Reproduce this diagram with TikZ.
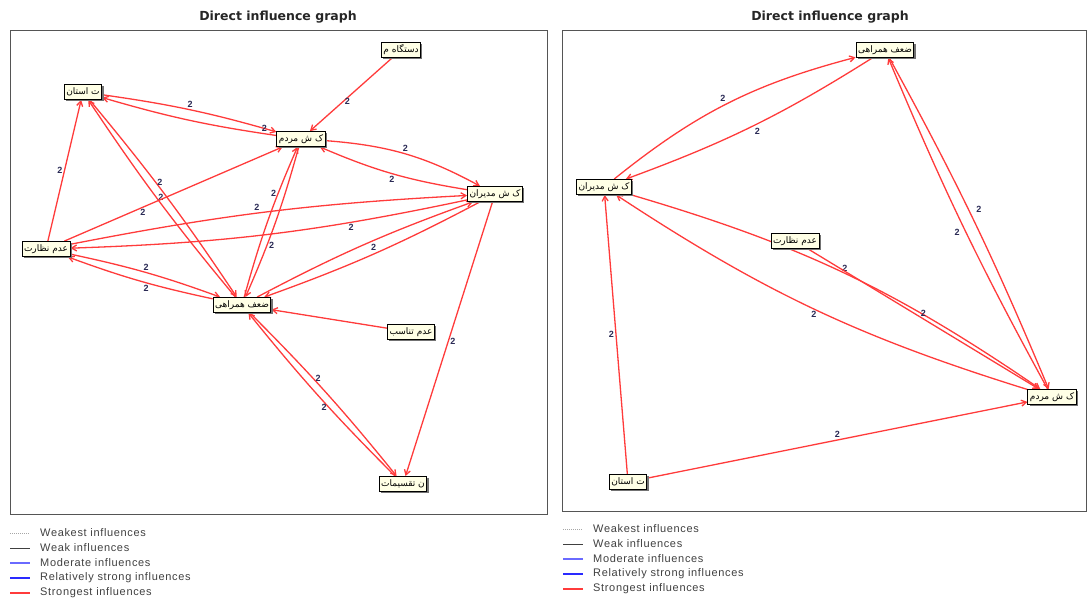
\documentclass[tikz,border=0pt]{standalone}
\usepackage{fontspec}
\setmainfont{Liberation Sans}
\newfontfamily\farsi[Script=Arabic]{DejaVu Sans}
\newfontfamily\titlefont{DejaVu Sans}
\newfontfamily\legendfont[LetterSpace=6]{Liberation Sans}
\TeXXeTstate=1
\usetikzlibrary{arrows.meta,shadows,backgrounds}
\definecolor{inflred}{HTML}{FF3B3B}
\definecolor{wtblue}{HTML}{2A2A55}
\definecolor{framegray}{HTML}{555555}
\definecolor{boxfill}{HTML}{FFFFE6}
\definecolor{modblue}{HTML}{6A6AFF}
\definecolor{strongblue}{HTML}{2A2AFF}

\begin{document}
\begin{tikzpicture}[x=1pt,y=1pt,
    factor/.style={draw=black, line width=0.9pt, fill=boxfill, inner sep=2pt,
      minimum height=15pt, font=\farsi\fontsize{9}{10}\selectfont,
      execute at begin node=\beginR, execute at end node=\endR,
      drop shadow={shadow xshift=1.8pt, shadow yshift=-1.8pt, fill=black!55, opacity=1}},
    infl/.style={draw=inflred, line width=1.3pt, -{Straight Barb[length=5pt,width=6pt]}},
    wt/.style={font=\bfseries\fontsize{9}{10}\selectfont, text=wtblue, inner sep=1.5pt},
    title/.style={font=\titlefont\bfseries\fontsize{12.5}{14}\selectfont, text=black!85},
    legtext/.style={font=\legendfont\fontsize{11}{12}\selectfont, text=black!75, anchor=west, inner sep=0pt},
    panel/.style={draw=framegray, line width=0.9pt}]
    \useasboundingbox (0,0) rectangle (1088,-600);

    % legend: {<prefix>}{<x>}{<y of first row>}
    \newcommand\inflegend[3]{%
        \draw[black!35, densely dotted, line width=1pt] (#2,#3) -- ++(20,0);
        \draw[black!75, line width=0.9pt] (#2,#3-15) -- ++(20,0);
        \draw[modblue, line width=1.1pt] (#2,#3-30) -- ++(20,0);
        \draw[strongblue, line width=2pt] (#2,#3-45) -- ++(20,0);
        \draw[inflred, line width=1.4pt] (#2,#3-60) -- ++(20,0);
        \node[legtext] (#1a) at (#2+30,#3) {Weakest influences};
        \node[legtext] (#1b) at (#2+30,#3-15) {Weak influences};
        \node[legtext] (#1c) at (#2+30,#3-30) {Moderate influences};
        \node[legtext] (#1d) at (#2+30,#3-45) {Relatively strong influences};
        \node[legtext] (#1e) at (#2+30,#3-60) {Strongest influences};
    }

    % frames and titles
    \draw[panel] (10,-30) rectangle (547,-514);
    \draw[panel] (562,-30) rectangle (1086,-511);
    \node[title] (titleL) at (278,-17) {Direct influence graph};
    \node[title] (titleR) at (830,-17) {Direct influence graph};

    % left graph
    \node[factor] (ostanL) at (83,-92) {ت استان};
    \node[factor] (dastgahL) at (401,-50) {دستگاه م};
    \node[factor] (mardomL) at (301,-139) {ک ش مردم};
    \node[factor] (modiranL) at (495,-194) {ک ش مدیران};
    \node[factor] (nezaratL) at (46,-249) {عدم نظارت};
    \node[factor] (hamrahiL) at (242,-305) {ضعف همراهی};
    \node[factor] (tanasobL) at (411,-332) {عدم تناسب};
    \node[factor] (taghsimL) at (403,-484) {ن تقسیمات};

    % right graph
    \node[factor] (hamrahiR) at (885,-50) {ضعف همراهی};
    \node[factor] (modiranR) at (604,-187) {ک ش مدیران};
    \node[factor] (nezaratR) at (795,-241) {عدم نظارت};
    \node[factor] (mardomR) at (1052,-397) {ک ش مردم};
    \node[factor] (ostanR) at (628,-482) {ت استان};

    \begin{scope}[on background layer]
    \draw[infl] (dastgahL) -- node[wt,right,pos=.6]{2} (mardomL);
    \draw[infl] (ostanL) to[bend left=4] node[wt,above,pos=.5]{2} (mardomL);
    \draw[infl] (mardomL) to[bend left=4] node[wt,above,pos=.06]{2} (ostanL);
    \draw[infl] (mardomL) to[bend left=12] node[wt,above,pos=.5]{2} (modiranL);
    \draw[infl] (modiranL) to[bend left=7] node[wt,below,pos=.5]{2} (mardomL);
    \draw[infl] (nezaratL) -- node[wt,left,pos=.5]{2} (ostanL);
    \draw[infl] (ostanL) to[bend left=3] node[wt,right,pos=.42]{2} (hamrahiL);
    \draw[infl] (hamrahiL) to[bend left=3] node[wt,right,pos=.52]{2} (ostanL);
    \draw[infl] (nezaratL) -- node[wt,below,pos=.36]{2} (mardomL);
    \draw[infl] (hamrahiL) to[bend left=4] node[wt,left,pos=.7]{2} (mardomL);
    \draw[infl] (mardomL) to[bend left=4] node[wt,right,pos=.66]{2} (hamrahiL);
    \draw[infl] (nezaratL) to[bend left=4] node[wt,above,pos=.47]{2} (modiranL);
    \draw[infl] (modiranL) to[bend left=5] node[wt,below,pos=.28]{2} (nezaratL);
    \draw[infl] (hamrahiL) to[bend left=4] node[wt,below right,pos=.53]{2} (modiranL);
    \draw[infl] (modiranL) to[bend left=4] (hamrahiL);
    \draw[infl] (nezaratL) to[bend left=4] node[wt,above,pos=.5]{2} (hamrahiL);
    \draw[infl] (hamrahiL) to[bend left=4] node[wt,below,pos=.45]{2} (nezaratL);
    \draw[infl] (tanasobL) -- (hamrahiL);
    \draw[infl] (hamrahiL) to[bend left=3] node[wt,right,pos=.41]{2} (taghsimL);
    \draw[infl] (taghsimL) to[bend left=3] node[wt,left,pos=.43]{2} (hamrahiL);
    \draw[infl] (modiranL) -- node[wt,right,pos=.51]{2} (taghsimL);

    \draw[infl] (modiranR) to[bend left=12] node[wt,above left,pos=.5]{2} (hamrahiR);
    \draw[infl] (hamrahiR) to[bend left=6] node[wt,below right,pos=.5]{2} (modiranR);
    \draw[infl] (hamrahiR) to[bend left=3] node[wt,right=6pt,pos=.46]{2} (mardomR);
    \draw[infl] (mardomR) to[bend left=3] node[wt,left=4pt,pos=.48]{2} (hamrahiR);
    \draw[infl] (modiranR) to[bend left=9] node[wt,above,pos=.5]{2} (mardomR);
    \draw[infl] (mardomR) to[bend left=8] node[wt,below,pos=.5]{2} (modiranR);
    \draw[infl] (nezaratR) -- node[wt,above,pos=.5]{2} (mardomR);
    \draw[infl] (ostanR) -- node[wt,left,pos=.5]{2} (modiranR);
    \draw[infl] (ostanR) -- node[wt,above,pos=.5]{2} (mardomR);
    \end{scope}

    \inflegend{legL}{10}{-533}
    \inflegend{legR}{563}{-529}
\end{tikzpicture}
\end{document}
